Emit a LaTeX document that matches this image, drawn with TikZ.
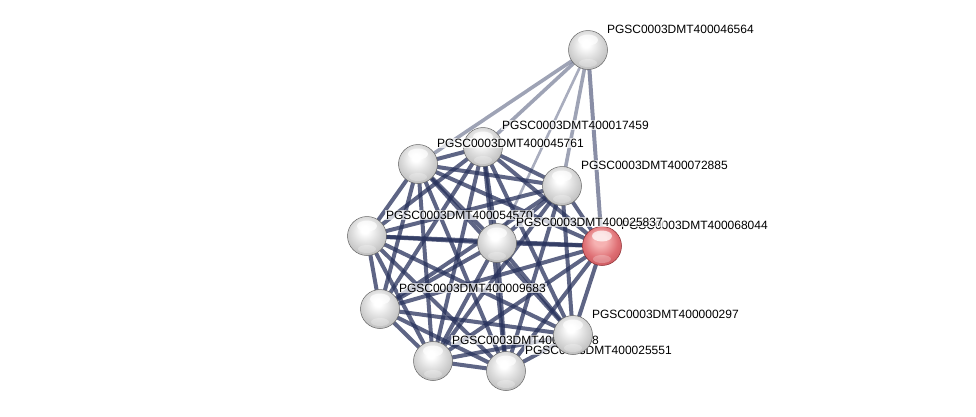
\documentclass[tikz,border=0pt]{standalone}
\usepackage{fontspec}
\setmainfont{Liberation Sans}
\definecolor{edgecol}{RGB}{40,50,92}
\definecolor{redA}{RGB}{246,178,178}
\definecolor{redB}{RGB}{222,110,115}
\definecolor{redC}{RGB}{190,75,82}
\definecolor{redD}{RGB}{140,45,50}
\pgfdeclareradialshading{graysphere}{\pgfpoint{-3bp}{9bp}}{%
  color(0bp)=(white); color(5bp)=(white); color(16bp)=(black!12);
  color(28bp)=(black!24); color(38bp)=(black!38); color(46bp)=(black!55); color(60bp)=(black!55)}
\pgfdeclareradialshading{redsphere}{\pgfpoint{-3bp}{9bp}}{%
  color(0bp)=(redA); color(8bp)=(redA); color(22bp)=(redB);
  color(38bp)=(redC); color(47bp)=(redD); color(60bp)=(redD)}
\tikzset{
  ballnode/.style={circle, minimum size=39pt, inner sep=0pt, draw=black!60, line width=0.5pt,
    shading=graysphere,
    path picture={\fill[white,opacity=0.7] ([yshift=10pt]path picture bounding box.center) ellipse (10pt and 5.5pt);
      \fill[white,opacity=0.25] ([yshift=-13pt]path picture bounding box.center) ellipse (9pt and 4pt);}},
  redball/.style={ballnode, shading=redsphere, draw=redD},
  lbl/.style={anchor=base west, font=\fontsize{12}{14}\selectfont, fill=white, fill opacity=0.7,
    text opacity=1, inner sep=0.8pt},
  edge/.style={line width=4pt, draw=edgecol, draw opacity=0.75},
  faintedge/.style={line width=3.6pt, draw=edgecol, draw opacity=0.45},
  thinedge/.style={line width=2.6pt, draw=edgecol, draw opacity=0.4}
}
\begin{document}
\begin{tikzpicture}[x=1pt,y=-1pt]
\useasboundingbox (0,0) rectangle (976,416);
% positions
\coordinate (K) at (588,50);
\coordinate (A) at (418,164);
\coordinate (B) at (483,147);
\coordinate (C) at (562,186);
\coordinate (D) at (367,236);
\coordinate (E) at (497,243);
\coordinate (F) at (602,246);
\coordinate (G) at (380,309);
\coordinate (H) at (573,335);
\coordinate (I) at (433,361);
\coordinate (J) at (506,371);
% edges from the outer node
\draw[faintedge] (K) -- (A);
\draw[faintedge] (K) -- (B);
\draw[thinedge] (K) -- (E);
\draw[faintedge] (K) -- (C);
\draw[edge, draw opacity=0.55] (K) -- (F);
% dense cluster
\foreach \p/\q in {A/B,A/C,A/D,A/E,A/F,A/G,A/H,A/I,A/J,
  B/C,B/D,B/E,B/F,B/G,B/H,B/I,B/J,
  C/D,C/E,C/F,C/G,C/H,C/I,C/J,
  D/E,D/F,D/G,D/H,D/I,D/J,
  E/F,E/G,E/H,E/I,E/J,
  F/G,F/H,F/I,F/J,
  G/H,G/I,G/J,
  H/I,H/J,
  I/J}{\draw[edge] (\p) -- (\q);}
% nodes
\node[ballnode] (nK) at (K) {};
\node[ballnode] (nA) at (A) {};
\node[ballnode] (nB) at (B) {};
\node[ballnode] (nC) at (C) {};
\node[ballnode] (nD) at (D) {};
\node[ballnode] (nE) at (E) {};
\node[redball] (nF) at (F) {};
\node[ballnode] (nG) at (G) {};
\node[ballnode] (nI) at (I) {};
\node[ballnode] (nJ) at (J) {};
% labels
\node[lbl] (lK) at ([xshift=18pt,yshift=17pt]nK.center) {PGSC0003DMT400046564};
\node[lbl] (lB) at ([xshift=18pt,yshift=18pt]nB.center) {PGSC0003DMT400017459};
\node[lbl] (lA) at ([xshift=18pt,yshift=17pt]nA.center) {PGSC0003DMT400045761};
\node[lbl] (lC) at ([xshift=18pt,yshift=17pt]nC.center) {PGSC0003DMT400072885};
\node[lbl] (lD) at ([xshift=18pt,yshift=17pt]nD.center) {PGSC0003DMT400054570};
\node[lbl] (lF) at ([xshift=18pt,yshift=17pt]nF.center) {PGSC0003DMT400068044};
\node[lbl] (lE) at ([xshift=18pt,yshift=17pt]nE.center) {PGSC0003DMT400025837};
\node[lbl] (lG) at ([xshift=18pt,yshift=17pt]nG.center) {PGSC0003DMT400009683};
\node[lbl] (lI) at ([xshift=18pt,yshift=17pt]nI.center) {PGSC0003DMT400000008};
\node[lbl] (lJ) at ([xshift=18pt,yshift=17pt]nJ.center) {PGSC0003DMT400025551};
\node[ballnode] (nH) at (H) {};
\node[lbl] (lH) at ([xshift=18pt,yshift=17pt]nH.center) {PGSC0003DMT400000297};
\end{tikzpicture}
\end{document}
